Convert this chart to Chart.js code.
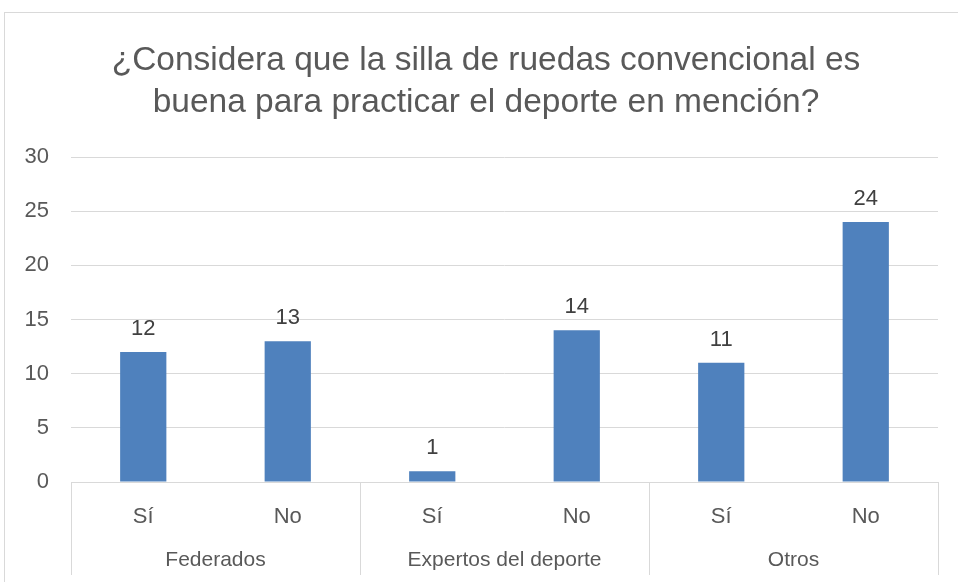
<!DOCTYPE html>
<html>
<head>
<meta charset="utf-8">
<script src="https://cdn.jsdelivr.net/npm/chart.js@4"></script>
<style>
  html, body { margin: 0; padding: 0; background: #fff; }
  #wrap { width: 958px; height: 582px; position: relative; }
</style>
</head>
<body>
<div id="wrap"><canvas id="myChart" width="958" height="582"></canvas></div>
<script>
const titleLines = ["¿Considera que la silla de ruedas convencional es", "buena para practicar el deporte en mención?"];
const subLabels = ["Sí", "No", "Sí", "No", "Sí", "No"];
const groups = ["Federados", "Expertos del deporte", "Otros"];
const values = [12, 13, 1, 14, 11, 24];
const yTicks = [0, 5, 10, 15, 20, 25, 30];

const FONT = "'Liberation Sans Narrow', 'Liberation Sans', sans-serif";
const TEXT = "#595959";
const GRID = "#d9d9d9";

// frame, title, group separators, group names and value labels
const extras = {
  id: "extras",
  beforeDraw(chart) {
    const ctx = chart.ctx;
    ctx.save();
    ctx.strokeStyle = GRID;
    ctx.lineWidth = 1;
    ctx.strokeRect(4.5, 12.5, 1000, 1000);
    ctx.fillStyle = TEXT;
    ctx.font = "33.5px " + FONT;
    ctx.textAlign = "center";
    ctx.textBaseline = "middle";
    titleLines.forEach((line, i) => ctx.fillText(line, 486, 61 + i * 42));
    ctx.restore();
  },
  afterDraw(chart) {
    const ctx = chart.ctx;
    const x = chart.scales.x;
    const area = chart.chartArea;
    const per = subLabels.length / groups.length;
    ctx.save();
    ctx.strokeStyle = GRID;
    ctx.lineWidth = 1;
    const edges = [];
    for (let g = 0; g <= groups.length; g++) {
      let px;
      if (g === 0) px = area.left;
      else if (g === groups.length) px = area.right;
      else px = (x.getPixelForValue(g * per - 1) + x.getPixelForValue(g * per)) / 2;
      edges.push(px);
      ctx.beginPath();
      ctx.moveTo(Math.round(px) + 0.5, area.bottom);
      ctx.lineTo(Math.round(px) + 0.5, area.bottom + 93);
      ctx.stroke();
    }
    ctx.fillStyle = TEXT;
    ctx.font = "21px " + FONT;
    ctx.textAlign = "center";
    ctx.textBaseline = "middle";
    groups.forEach((name, i) => {
      ctx.fillText(name, (edges[i] + edges[i + 1]) / 2, area.bottom + 78);
    });
    ctx.fillStyle = "#404040";
    ctx.font = "22px " + FONT;
    ctx.textBaseline = "bottom";
    chart.getDatasetMeta(0).data.forEach((bar, i) => {
      ctx.fillText(String(values[i]), bar.x, bar.y - 12);
    });
    ctx.restore();
  }
};

new Chart(document.getElementById("myChart").getContext("2d"), {
  type: "bar",
  data: {
    labels: subLabels,
    datasets: [{
      data: values,
      backgroundColor: "#4f81bd",
      categoryPercentage: 1,
      barPercentage: 0.32
    }]
  },
  options: {
    responsive: false,
    animation: false,
    layout: { padding: { left: 0, right: 20, top: 157, bottom: 0 } },
    plugins: {
      legend: { display: false },
      tooltip: { enabled: false },
      title: { display: false }
    },
    scales: {
      y: {
        min: 0,
        max: 30,
        afterBuildTicks(s) { s.ticks = yTicks.map(v => ({ value: v })); },
        afterFit(s) { s.width = 71; },
        border: { display: false },
        grid: { color: GRID, drawTicks: false },
        ticks: { color: TEXT, padding: 22, font: { family: FONT, size: 22 } }
      },
      x: {
        afterFit(s) { s.height = 100; },
        border: { color: GRID },
        grid: { display: false, drawTicks: false },
        ticks: { color: TEXT, padding: 22, font: { family: FONT, size: 22 } }
      }
    }
  },
  plugins: [extras]
});
</script>
</body>
</html>
